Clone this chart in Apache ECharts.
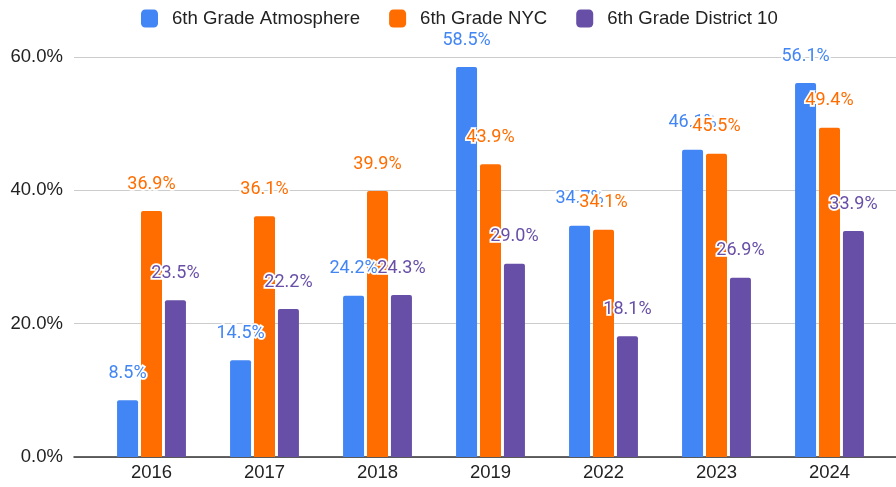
<!DOCTYPE html>
<html>
<head>
<meta charset="utf-8">
<script src="https://cdn.jsdelivr.net/npm/echarts@6/dist/echarts.min.js"></script>
<style>html,body{margin:0;padding:0;background:#fff}#c{width:896px;height:487px}</style>
</head>
<body>
<div id="c"></div>
<script>
const categories = ['2016', '2017', '2018', '2019', '2022', '2023', '2024'];
const atmosphere = [8.5, 14.5, 24.2, 58.5, 34.7, 46.1, 56.1];
const nyc = [36.9, 36.1, 39.9, 43.9, 34.1, 45.5, 49.4];
const district10 = [23.5, 22.2, 24.3, 29.0, 18.1, 26.9, 33.9];
const seriesNames = ['6th Grade Atmosphere', '6th Grade NYC', '6th Grade District 10'];
const colors = ['#4285F4', '#FF6D01', '#674EA7'];
const yTicks = [0, 20, 40, 60];

const chart = echarts.init(document.getElementById('c'), null, {renderer: 'canvas'});
function mkSeries(name, data, color) {
  return {
    name: name, type: 'bar', data: data, xAxisIndex: 1, yAxisIndex: 1,
    barWidth: 21, barGap: '14%',
    itemStyle: {color: color, borderRadius: [2, 2, 0, 0]},
    label: {
      show: true, position: 'top', distance: 18,
      formatter: p => p.value.toFixed(1) + '%',
      color: color, fontFamily: 'Roboto', fontSize: 18,
      textBorderColor: '#fff', textBorderWidth: 3.5
    }
  };
}
chart.setOption({
  animation: false,
  color: colors,
  legend: {
    left: 136, top: 4, itemWidth: 17, itemHeight: 18, itemGap: 29,
    icon: 'roundRect',
    textStyle: {fontFamily: 'Liberation Sans', fontSize: 18.6, color: '#222', padding: [0, 0, 0, 9]},
    data: seriesNames
  },
  grid: [
    {left: 74, right: 0, top: 57, bottom: 30},
    {left: 95, right: 10, top: 57, bottom: 30}
  ],
  xAxis: [
    {type: 'category', gridIndex: 0, data: categories,
     axisLine: {show: true, lineStyle: {color: '#333', width: 1.5}},
     axisTick: {show: false}, axisLabel: {show: false}, splitLine: {show: false}},
    {type: 'category', gridIndex: 1, data: categories,
     axisLine: {show: false}, axisTick: {show: false},
     axisLabel: {fontFamily: 'Liberation Sans', fontSize: 18.5, color: '#222', margin: 6}}
  ],
  yAxis: [
    {type: 'value', gridIndex: 0, min: yTicks[0], max: yTicks[yTicks.length - 1], interval: 20,
     axisLine: {show: false}, axisTick: {show: false},
     axisLabel: {formatter: v => v.toFixed(1) + '%', fontFamily: 'Liberation Sans', fontSize: 18.5, color: '#222', margin: 11},
     splitLine: {lineStyle: {color: '#ccc', width: 1}}},
    {type: 'value', gridIndex: 1, min: yTicks[0], max: yTicks[yTicks.length - 1], interval: 20, show: false}
  ],
  series: [
    mkSeries(seriesNames[0], atmosphere, colors[0]),
    mkSeries(seriesNames[1], nyc, colors[1]),
    mkSeries(seriesNames[2], district10, colors[2])
  ]
});
</script>
</body>
</html>
